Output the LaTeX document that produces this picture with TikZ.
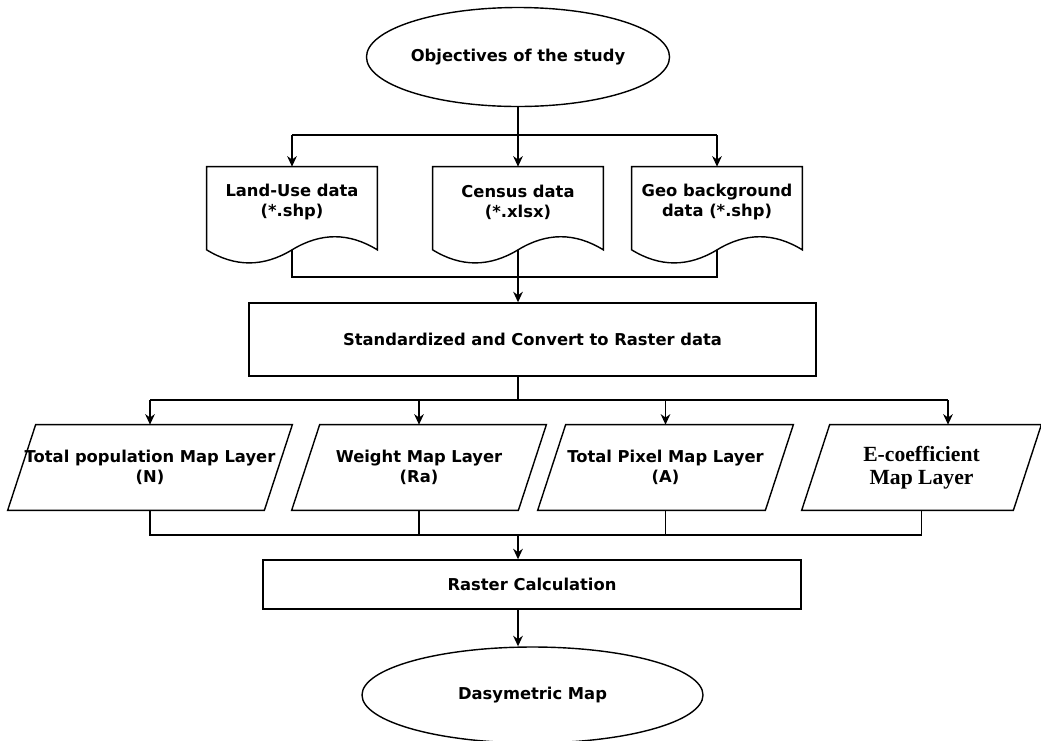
\documentclass[tikz,border=0pt]{standalone}
\usepackage{fontspec}
\setmainfont{DejaVu Sans}
\newfontfamily\layerserif{Liberation Serif}
\usepackage{tikz}
\usetikzlibrary{arrows.meta, shapes.geometric}

\tikzset{
  every node/.style={font=\fontsize{9.3pt}{11.4pt}\selectfont\bfseries, align=center},
  term/.style={ellipse, draw, thick, inner sep=0pt},
  proc/.style={rectangle, draw, thick, inner sep=0pt},
  docbox/.style={minimum width=3.4cm, minimum height=1.4cm, inner sep=0pt},
  layer/.style={minimum height=1.7cm, inner sep=0pt}
}

\begin{document}
\begin{tikzpicture}[>={Stealth[length=6pt,width=5.5pt]}]
            \useasboundingbox (0,0) rectangle (20.82,-14.8);

            % start
            \node[term, minimum width=5.12cm, minimum height=1.98cm] (obj) at (10.36,-1.14) {Objectives of the study};

            % input data
            \node[docbox] (land) at (5.84,-4.04) {Land-Use data\\(*.shp)};
            \node[docbox] (cens) at (10.36,-4.04) {Census data\\(*.xlsx)};
            \node[docbox] (geo) at (14.34,-4.04) {Geo background\\data (*.shp)};

            \foreach \n in {land,cens,geo}
              \draw[thick] ([yshift=-0.25cm]\n.south west) -- (\n.north west) -- (\n.north east) -- ([yshift=-0.25cm]\n.south east)
                .. controls ([xshift=-0.567cm,yshift=0.1cm]\n.south east) and ([xshift=-1.133cm,yshift=0.1cm]\n.south east) .. ([yshift=-0.25cm]\n.south)
                .. controls ([xshift=1.133cm,yshift=-0.598cm]\n.south west) and ([xshift=0.567cm,yshift=-0.598cm]\n.south west) .. ([yshift=-0.25cm]\n.south west) -- cycle;

            \node[proc, minimum width=11.34cm, minimum height=1.46cm] (std) at (10.65,-6.79) {Standardized and Convert to Raster data};

            % layers
            \node[layer, minimum width=5.12cm] (lay1) at (3.0,-9.35) {Total population Map Layer\\(N)};
            \node[layer, minimum width=4.52cm] (lay2) at (8.38,-9.35) {Weight Map Layer\\(Ra)};
            \node[layer, minimum width=4.54cm] (lay3) at (13.31,-9.35) {Total Pixel Map Layer\\(A)};
            \node[layer, minimum width=4.22cm, font=\layerserif\bfseries\fontsize{12.3pt}{13pt}\selectfont] (lay4) at (18.43,-9.35) {E-coefficient\\Map Layer};

            \foreach \n in {lay1,lay2,lay3,lay4}
              \draw[thick] ([xshift=-0.28cm]\n.south west) -- ([xshift=0.28cm]\n.north west) -- ([xshift=0.28cm]\n.north east) -- ([xshift=-0.28cm]\n.south east) -- cycle;

            \node[proc, minimum width=10.76cm, minimum height=0.98cm] (calc) at (10.64,-11.69) {Raster Calculation};
            \node[term, minimum width=6.82cm, minimum height=1.92cm] (dasy) at (10.65,-13.9) {Dasymetric Map};

            % connectors
            \coordinate (split1) at (10.36,-2.7);
            \coordinate (join1) at (10.36,-5.54);
            \coordinate (split2) at (10.36,-8.0);
            \coordinate (join2) at (10.36,-10.7);
            \coordinate (lay4in) at ([xshift=0.53cm]lay4.north);

            \draw[thick] (obj.south) -- (split1);
            \draw[thick] (split1 -| land) -- (split1 -| geo);
            \foreach \n in {land,cens,geo}
              \draw[thick, ->] (split1 -| \n) -- (\n.north);

            \draw[thick] ([yshift=-0.25cm]land.south) -- (join1 -| land) -- (join1 -| geo) -- ([yshift=-0.25cm]geo.south);
            \draw[thick, ->] ([yshift=-0.25cm]cens.south) -- (cens |- std.north);

            \draw[thick] (std.south -| split2) -- (split2);
            \draw[thick] (split2 -| lay1) -- (split2 -| lay4in);
            \foreach \n in {lay1,lay2,lay3}
              \draw[thick, ->] (split2 -| \n) -- (\n.north);
            \draw[thick, ->] (split2 -| lay4in) -- (lay4in);

            \draw[thick] (lay1.south) -- (join2 -| lay1) -- (join2 -| lay4) -- (lay4.south);
            \draw[thick] (lay2.south) -- (join2 -| lay2);
            \draw[thick] (lay3.south) -- (join2 -| lay3);
            \draw[thick, ->] (join2) -- (join2 |- calc.north);
            \draw[thick, ->] (calc.south -| join2) -- (join2 |- dasy.north);
        \end{tikzpicture}
\end{document}
